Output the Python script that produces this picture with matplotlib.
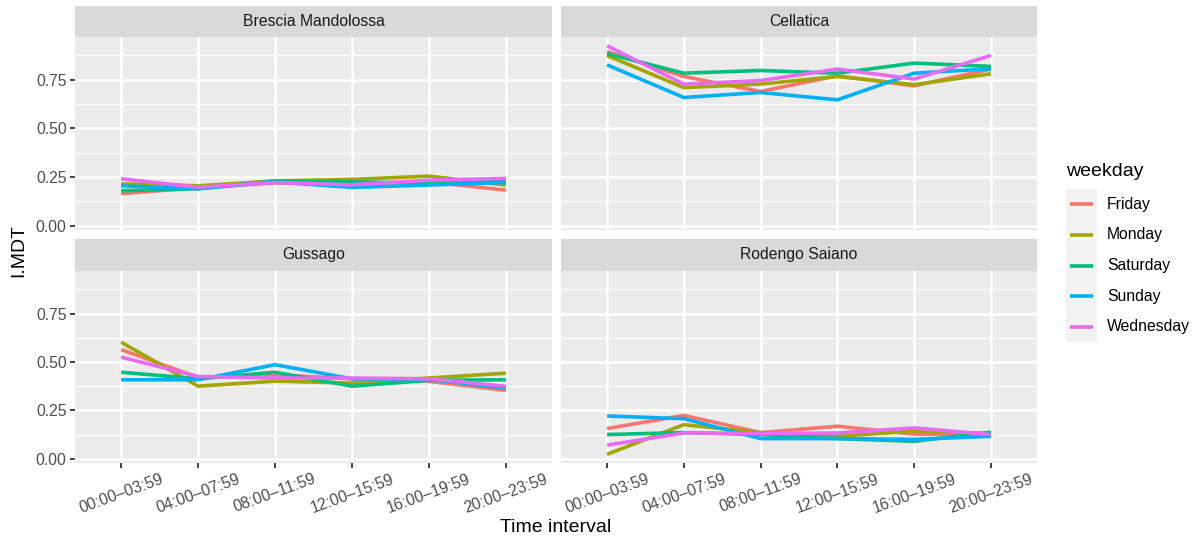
import numpy as np
import matplotlib
matplotlib.use("Agg")
import matplotlib.pyplot as plt

plt.rcParams['font.family'] = ['Liberation Sans', 'DejaVu Sans']

# data
intervals = ["00:00\u201303:59", "04:00\u201307:59", "08:00\u201311:59",
             "12:00\u201315:59", "16:00\u201319:59", "20:00\u201323:59"]
weekdays = ["Friday", "Monday", "Saturday", "Sunday", "Wednesday"]
colors = ["#F8766D", "#A3A500", "#00BF7D", "#00B0F6", "#E76BF3"]

# rows follow weekdays order
brescia_mandolossa = [
    [0.165, 0.195, 0.220, 0.215, 0.225, 0.183],
    [0.215, 0.205, 0.230, 0.238, 0.255, 0.209],
    [0.180, 0.190, 0.230, 0.225, 0.220, 0.228],
    [0.205, 0.190, 0.225, 0.197, 0.209, 0.222],
    [0.241, 0.198, 0.222, 0.210, 0.234, 0.243],
]
cellatica = [
    [0.895, 0.767, 0.690, 0.771, 0.719, 0.805],
    [0.875, 0.710, 0.728, 0.767, 0.725, 0.781],
    [0.885, 0.784, 0.798, 0.784, 0.836, 0.819],
    [0.827, 0.659, 0.685, 0.647, 0.784, 0.807],
    [0.925, 0.728, 0.746, 0.805, 0.754, 0.875],
]
gussago = [
    [0.564, 0.420, 0.434, 0.413, 0.400, 0.353],
    [0.602, 0.375, 0.401, 0.391, 0.417, 0.442],
    [0.447, 0.413, 0.447, 0.375, 0.405, 0.408],
    [0.408, 0.408, 0.486, 0.413, 0.410, 0.365],
    [0.525, 0.425, 0.417, 0.417, 0.413, 0.374],
]
rodengo_saiano = [
    [0.156, 0.224, 0.135, 0.168, 0.127, 0.127],
    [0.023, 0.176, 0.135, 0.116, 0.143, 0.130],
    [0.125, 0.135, 0.125, 0.104, 0.090, 0.137],
    [0.221, 0.207, 0.104, 0.104, 0.100, 0.116],
    [0.070, 0.133, 0.130, 0.133, 0.159, 0.125],
]

towns = ["Brescia Mandolossa", "Cellatica", "Gussago", "Rodengo Saiano"]
town_data = [brescia_mandolossa, cellatica, gussago, rodengo_saiano]

W, H = 1195, 541
fig = plt.figure(figsize=(W / 100, H / 100), dpi=100)

def fx(px):
    return px / W

def fy(py):
    return 1 - py / H

# panel boxes in pixels: (left, right, strip top, panel top, panel bottom)
cols = [(75, 552), (561, 1037)]
rows = [(6, 37, 230), (239, 271, 463)]

allv = np.array(town_data).ravel()
rng = allv.max() - allv.min()
ylo, yhi = allv.min() - 0.05 * rng, allv.max() + 0.05 * rng

x = np.arange(len(intervals))
for i, (town, data) in enumerate(zip(towns, town_data)):
    r, c = divmod(i, 2)
    left, right = cols[c]
    stop, ptop, pbot = rows[r]

    # strip
    sax = fig.add_axes([fx(left), fy(ptop), fx(right - left), (ptop - stop) / H])
    sax.set_facecolor("#D9D9D9")
    sax.set_xticks([])
    sax.set_yticks([])
    for s in sax.spines.values():
        s.set_visible(False)
    sax.text(0.5, 0.5, town, ha="center", va="center", fontsize=11.3,
             color="#1A1A1A", transform=sax.transAxes)

    # panel
    ax = fig.add_axes([fx(left), fy(pbot), fx(right - left), (pbot - ptop) / H])
    ax.set_facecolor("#EBEBEB")
    for s in ax.spines.values():
        s.set_visible(False)
    ax.set_xlim(-0.6, len(intervals) - 0.4)
    ax.set_ylim(ylo, yhi)
    ax.set_yticks([0, 0.25, 0.5, 0.75])
    ax.set_yticks([0.125, 0.375, 0.625, 0.875], minor=True)
    ax.set_xticks(x)
    ax.grid(True, which="major", color="white", lw=1.8)
    ax.grid(True, which="minor", axis="y", color="white", lw=0.9)
    ax.set_axisbelow(True)
    ax.tick_params(which="minor", length=0)
    ax.tick_params(which="major", length=3.5, width=1.3, color="#333333",
                   labelcolor="#4D4D4D", labelsize=11.3, pad=2.5)

    if c == 0:
        ax.set_yticklabels(["0.00", "0.25", "0.50", "0.75"])
    else:
        ax.tick_params(axis="y", length=0, labelleft=False)
    if r == 1:
        ax.set_xticklabels(intervals, rotation=20, ha="center", va="top")
    else:
        ax.tick_params(axis="x", length=0, labelbottom=False)

    for vals, col, name in zip(data, colors, weekdays):
        ax.plot(x, vals, color=col, lw=2.6, label=name, solid_capstyle="butt")

# axis titles
fig.text(fx(556), fy(527), "Time interval", ha="center", va="center", fontsize=14)
fig.text(fx(19), fy(250), "I.MDT", ha="center", va="center", rotation=90, fontsize=14)

# legend
fig.text(fx(1066), fy(172), "weekday", ha="left", va="center", fontsize=14)
lax = fig.add_axes([fx(1066), fy(342), fx(31), 153 / H])
lax.set_facecolor("#F2F2F2")
lax.set_xlim(0, 1)
lax.set_ylim(len(weekdays), 0)
lax.set_xticks([])
lax.set_yticks([])
for s in lax.spines.values():
    s.set_visible(False)
for k, (name, col) in enumerate(zip(weekdays, colors)):
    lax.plot([0.13, 0.87], [k + 0.5, k + 0.5], color=col, lw=2.6, solid_capstyle="butt")
    lax.text(1.32, k + 0.5, name, ha="left", va="center", fontsize=11.3,
             transform=lax.transData, clip_on=False)

fig.savefig("out.png", dpi=100)
